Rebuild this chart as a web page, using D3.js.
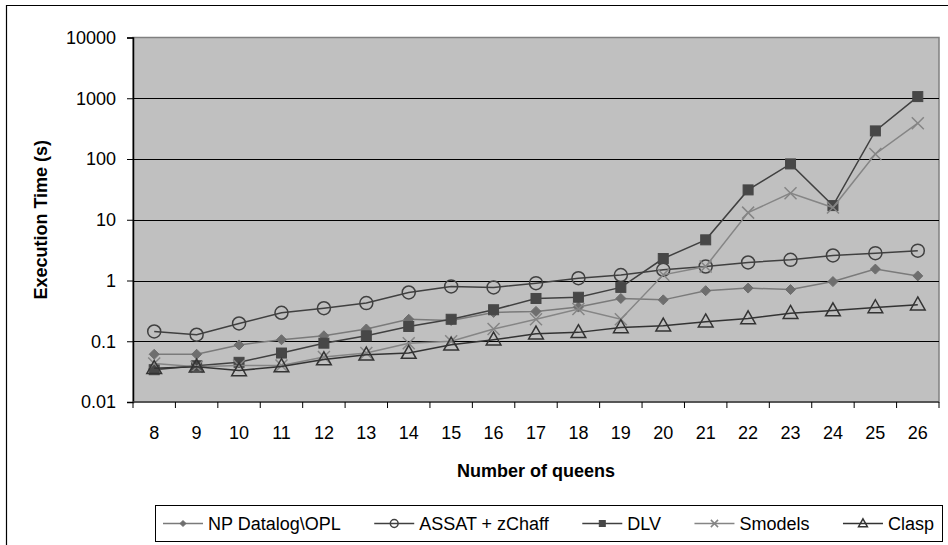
<!DOCTYPE html>
<head>
  <meta charset="utf-8">
  <script src="https://d3js.org/d3.v7.min.js"></script>
  <style>
    body { margin:0; background:#fff; }
    text { font-family: "Liberation Sans", Arial, sans-serif; fill:#000; }
  </style>
</head>

<body>
<script>
  // data
  var queens = ["8","9","10","11","12","13","14","15","16","17","18","19","20","21","22","23","24","25","26"];
  var npDatalog = [0.061,0.061,0.087,0.106,0.123,0.159,0.23,0.22,0.298,0.31,0.365,0.506,0.48,0.68,0.75,0.71,0.96,1.54,1.19];
  var assat = [0.145,0.128,0.196,0.294,0.35,0.425,0.635,0.80,0.77,0.905,1.09,1.23,1.5,1.7,1.98,2.19,2.58,2.82,3.1];
  var dlv = [0.034,0.0395,0.045,0.064,0.093,0.123,0.175,0.23,0.33,0.506,0.53,0.77,2.3,4.67,31,83,17.1,290,1065];
  var smodels = [0.043,0.038,0.04,0.04,0.055,0.064,0.093,0.1,0.159,0.23,0.34,0.23,1.24,1.7,13.1,27.4,15.9,121,388];
  var clasp = [0.036,0.038,0.033,0.0385,0.05,0.06,0.064,0.0875,0.106,0.133,0.14,0.169,0.18,0.21,0.237,0.29,0.32,0.36,0.40];
  var yTicks = [0.01,0.1,1,10,100,1000,10000];

  var series = [
    {name:"NP Datalog\\OPL", values:npDatalog, line:"#7a7a7a", marker:"diamond", color:"#6e6e6e"},
    {name:"ASSAT + zChaff", values:assat, line:"#404040", marker:"circle", color:"#404040"},
    {name:"DLV", values:dlv, line:"#404040", marker:"square", color:"#474747"},
    {name:"Smodels", values:smodels, line:"#858585", marker:"cross", color:"#858585"},
    {name:"Clasp", values:clasp, line:"#333333", marker:"triangle", color:"#333333"}
  ];

  var W = 948, H = 545;
  var plot = {left:133, right:939, top:37.5, bottom:402};

  var svg = d3.select("body").append("svg")
    .attr("width", W)
    .attr("height", H);

  // outer chart frame
  svg.append("path")
    .attr("d", "M6.5," + H + "V5.5H" + W)
    .attr("fill", "none")
    .attr("stroke", "#000")
    .attr("stroke-width", 1.2);

  var x = d3.scaleBand().domain(queens).range([plot.left, plot.right]);
  var y = d3.scaleLog().domain([0.01, 10000]).range([plot.bottom, plot.top]);
  var cx = function(i) { return x(queens[i]) + x.bandwidth() / 2; };

  // plot area
  svg.append("rect")
    .attr("x", plot.left).attr("y", plot.top)
    .attr("width", plot.right - plot.left).attr("height", plot.bottom - plot.top)
    .attr("fill", "#c0c0c0")
    .attr("stroke", "#808080")
    .attr("stroke-width", 1.5);

  // gridlines
  svg.append("g").selectAll("line")
    .data(yTicks.slice(1, -1))
    .enter().append("line")
    .attr("x1", plot.left).attr("x2", plot.right)
    .attr("y1", function(d) { return Math.round(y(d)) + 0.5; })
    .attr("y2", function(d) { return Math.round(y(d)) + 0.5; })
    .attr("stroke", "#000")
    .attr("stroke-width", 1);

  // y axis
  var yAxis = svg.append("g")
    .attr("transform", "translate(" + plot.left + ",0)")
    .call(d3.axisLeft(y).tickValues(yTicks).tickFormat(function(d) { return String(d); })
      .tickSize(6).tickPadding(11));
  yAxis.select(".domain").attr("stroke", "#000").attr("stroke-width", 1.5);
  yAxis.selectAll(".tick line").attr("stroke", "#000");
  yAxis.selectAll("text").style("font-size", "18px").attr("fill", "#000");

  // x axis, ticks between categories
  var xAxis = svg.append("g")
    .attr("transform", "translate(0," + plot.bottom + ")");
  xAxis.append("line")
    .attr("x1", plot.left).attr("x2", plot.right)
    .attr("stroke", "#404040").attr("stroke-width", 1.5);
  xAxis.selectAll(".tk")
    .data(queens.concat(["end"]))
    .enter().append("line")
    .attr("class", "tk")
    .attr("x1", function(d, i) { return plot.left + i * x.bandwidth(); })
    .attr("x2", function(d, i) { return plot.left + i * x.bandwidth(); })
    .attr("y1", 0).attr("y2", 6)
    .attr("stroke", "#000");
  xAxis.selectAll(".lbl")
    .data(queens)
    .enter().append("text")
    .attr("class", "lbl")
    .attr("x", function(d, i) { return cx(i); })
    .attr("y", 37)
    .attr("text-anchor", "middle")
    .style("font-size", "18px")
    .text(function(d) { return d; });

  // axis titles
  svg.append("text")
    .attr("x", (plot.left + plot.right) / 2)
    .attr("y", 477)
    .attr("text-anchor", "middle")
    .style("font-size", "18px")
    .style("font-weight", "bold")
    .text("Number of queens");

  svg.append("text")
    .attr("transform", "translate(47," + ((plot.top + plot.bottom) / 2) + ") rotate(-90)")
    .attr("text-anchor", "middle")
    .style("font-size", "18px")
    .style("font-weight", "bold")
    .text("Execution Time (s)");

  function drawMarker(g, type, color, s) {
    if (type == "diamond") {
      g.append("path").attr("d", "M0," + (-s) + "L" + s + ",0L0," + s + "L" + (-s) + ",0Z")
        .attr("fill", color).attr("stroke", color);
    } else if (type == "circle") {
      g.append("circle").attr("r", s).attr("fill", "none").attr("stroke", color).attr("stroke-width", 1.5);
    } else if (type == "square") {
      g.append("rect").attr("x", -s).attr("y", -s).attr("width", 2 * s).attr("height", 2 * s)
        .attr("fill", color).attr("stroke", color);
    } else if (type == "cross") {
      g.append("path").attr("d", "M" + (-s) + "," + (-s) + "L" + s + "," + s + "M" + (-s) + "," + s + "L" + s + "," + (-s))
        .attr("stroke", color).attr("stroke-width", 1.5);
    } else if (type == "triangle") {
      g.append("path").attr("d", "M0," + (-s * 1.1) + "L" + (s * 1.05) + "," + (s * 0.75) + "L" + (-s * 1.05) + "," + (s * 0.75) + "Z")
        .attr("fill", "none").attr("stroke", color).attr("stroke-width", 1.5);
    }
  }

  var sizes = {diamond:5, circle:6.5, square:5, cross:6, triangle:7};

  var line = d3.line()
    .x(function(d, i) { return cx(i); })
    .y(function(d) { return y(d); });

  series.forEach(function(s) {
    var g = svg.append("g");
    g.append("path")
      .attr("d", line(s.values))
      .attr("fill", "none")
      .attr("stroke", s.line)
      .attr("stroke-width", 1.5);
    s.values.forEach(function(v, i) {
      var m = g.append("g").attr("transform", "translate(" + cx(i) + "," + y(v) + ")");
      drawMarker(m, s.marker, s.color, sizes[s.marker]);
    });
  });

  // legend
  var leg = {left:155, right:942, top:505, bottom:541};
  svg.append("rect")
    .attr("x", leg.left + 0.5).attr("y", leg.top + 0.5)
    .attr("width", leg.right - leg.left).attr("height", leg.bottom - leg.top)
    .attr("fill", "#fff").attr("stroke", "#000");

  var lineLen = 40, gap = 5;
  var items = series.map(function(s) {
    var g = svg.append("g");
    g.append("line").attr("x1", 0).attr("x2", lineLen).attr("stroke", s.line).attr("stroke-width", 1.5);
    var m = g.append("g").attr("transform", "translate(" + (lineLen / 2) + ",0)");
    drawMarker(m, s.marker, s.color, sizes[s.marker] * 0.6);
    var t = g.append("text").attr("x", lineLen + gap).attr("dy", "0.35em")
      .style("font-size", "18px").text(s.name);
    return {g:g, w:lineLen + gap + t.node().getComputedTextLength()};
  });
  var total = d3.sum(items, function(d) { return d.w; });
  var pad = 8;
  var spacing = (leg.right - leg.left - 2 * pad - total) / (items.length - 1);
  var pos = leg.left + pad;
  items.forEach(function(it) {
    it.g.attr("transform", "translate(" + pos + "," + ((leg.top + leg.bottom) / 2 + 0.5) + ")");
    pos += it.w + spacing;
  });
</script>
</body>
